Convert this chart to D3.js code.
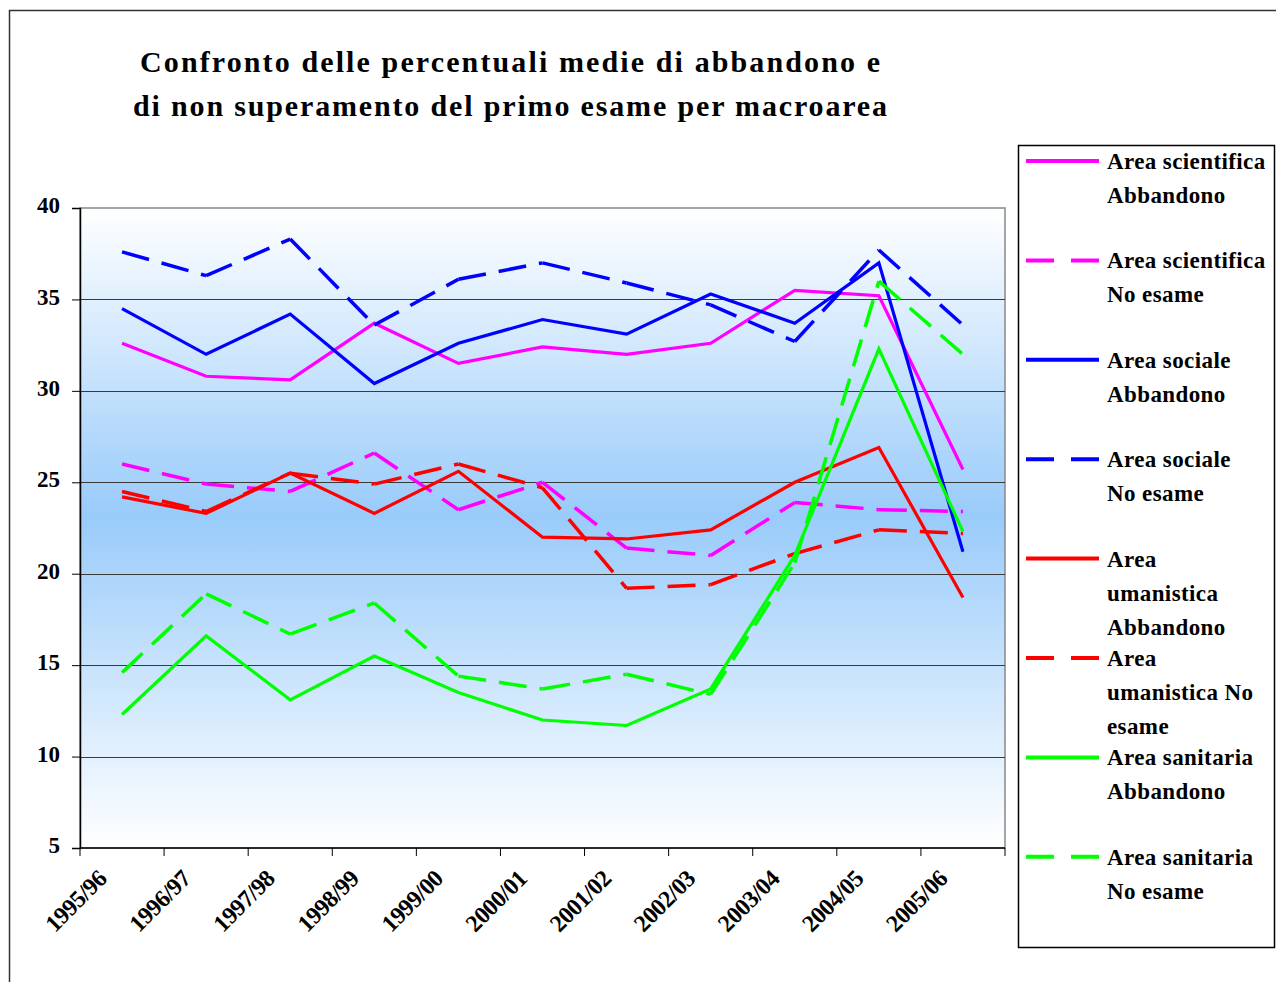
<!DOCTYPE html>
<html>
<head>
<meta charset="utf-8">
<script src="https://cdn.jsdelivr.net/npm/d3@7"></script>
<style>
  body { margin: 0; background: #fff; }
  svg { display: block; }
  text { font-family: "Liberation Serif", "DejaVu Serif", serif; font-weight: bold; fill: #000; }
</style>
</head>
<body>
<div id="chart"></div>
<script>
var width = 1276;
var height = 982;

// data
var years = ["1995/96", "1996/97", "1997/98", "1998/99", "1999/00", "2000/01",
             "2001/02", "2002/03", "2003/04", "2004/05", "2005/06"];
var sciAbb = [32.6, 30.8, 30.6, 33.7, 31.5, 32.4, 32.0, 32.6, 35.5, 35.2, 25.7];
var sciNo  = [26.0, 24.9, 24.5, 26.6, 23.5, 25.0, 21.4, 21.0, 23.9, 23.5, 23.4];
var socAbb = [34.5, 32.0, 34.2, 30.4, 32.6, 33.9, 33.1, 35.3, 33.7, 37.0, 21.2];
var socNo  = [37.6, 36.3, 38.3, 33.6, 36.1, 37.0, 35.9, 34.7, 32.7, 37.7, 33.6];
var umAbb  = [24.2, 23.3, 25.5, 23.3, 25.6, 22.0, 21.9, 22.4, 25.0, 26.9, 18.7];
var umNo   = [24.5, 23.4, 25.5, 24.9, 26.0, 24.7, 19.2, 19.4, 21.1, 22.4, 22.2];
var sanAbb = [12.3, 16.6, 13.1, 15.5, 13.5, 12.0, 11.7, 13.7, 21.0, 32.3, 22.3];
var sanNo  = [14.6, 18.9, 16.7, 18.4, 14.4, 13.7, 14.5, 13.4, 20.6, 36.0, 32.0];
var yTicks = [5, 10, 15, 20, 25, 30, 35, 40];

var seriesLabels = [
  ["Area scientifica", "Abbandono"],
  ["Area scientifica", "No esame"],
  ["Area sociale", "Abbandono"],
  ["Area sociale", "No esame"],
  ["Area", "umanistica", "Abbandono"],
  ["Area", "umanistica No", "esame"],
  ["Area sanitaria", "Abbandono"],
  ["Area sanitaria", "No esame"]
];
var seriesValues = [sciAbb, sciNo, socAbb, socNo, umAbb, umNo, sanAbb, sanNo];
var seriesColors = ["#ff00ff", "#ff00ff", "#0000ff", "#0000ff", "#ff0000", "#ff0000", "#00ff00", "#00ff00"];
var seriesDashed = [false, true, false, true, false, true, false, true];

var titleLines = ["Confronto delle percentuali medie di abbandono e",
                  "di non superamento del primo esame per macroarea"];

var plot = {left: 80, right: 1005, top: 208, bottom: 848};

var svg = d3.select("#chart")
    .append("svg")
    .attr("width", width)
    .attr("height", height);

// outer frame (only top and left visible)
svg.append("path")
    .attr("d", "M9.5," + height + "V10.5H" + width)
    .attr("fill", "none")
    .attr("stroke", "#333")
    .attr("stroke-width", 1.5);

var defs = svg.append("defs");
var grad = defs.append("linearGradient")
    .attr("id", "bg")
    .attr("x1", 0).attr("y1", 0).attr("x2", 0).attr("y2", 1);
grad.append("stop").attr("offset", "0%").attr("stop-color", "#ffffff");
grad.append("stop").attr("offset", "48%").attr("stop-color", "#99cbfa");
grad.append("stop").attr("offset", "100%").attr("stop-color", "#ffffff");

var x = d3.scaleBand().domain(years).range([plot.left, plot.right]);
var y = d3.scaleLinear().domain([5, 40]).range([plot.bottom, plot.top]);
function cx(i) { return x(years[i]) + x.bandwidth() / 2; }

svg.append("rect")
    .attr("x", plot.left).attr("y", plot.top)
    .attr("width", plot.right - plot.left)
    .attr("height", plot.bottom - plot.top)
    .attr("fill", "url(#bg)")
    .attr("stroke", "#888")
    .attr("stroke-width", 1.5);

// gridlines
svg.selectAll(".grid")
    .data(yTicks.filter(function(t) { return t > 5 && t < 40; }))
    .enter()
    .append("line")
    .attr("class", "grid")
    .attr("x1", plot.left).attr("x2", plot.right)
    .attr("y1", function(d) { return Math.round(y(d)) + 0.5; })
    .attr("y2", function(d) { return Math.round(y(d)) + 0.5; })
    .attr("stroke", "#3a3a3a")
    .attr("stroke-width", 1);

// y axis
var yAxis = svg.append("g")
    .attr("transform", "translate(" + plot.left + ",0)")
    .call(d3.axisLeft(y).tickValues(yTicks).tickSize(8).tickPadding(12));
yAxis.select(".domain").attr("stroke", "#000").attr("stroke-width", 1.5);
yAxis.selectAll(".tick line").attr("stroke", "#000");
yAxis.selectAll(".tick text")
    .style("font-family", "'Liberation Serif', serif")
    .style("font-weight", "bold")
    .style("font-size", "23px")
    .attr("dy", "0.2em")
    .attr("fill", "#000");

// x axis: ticks at band edges
var edges = years.map(function(d) { return x(d); }).concat([plot.right]);
svg.append("line")
    .attr("x1", plot.left).attr("x2", plot.right)
    .attr("y1", plot.bottom).attr("y2", plot.bottom)
    .attr("stroke", "#000").attr("stroke-width", 1.5);
svg.selectAll(".xtick")
    .data(edges)
    .enter()
    .append("line")
    .attr("class", "xtick")
    .attr("x1", function(d) { return d; }).attr("x2", function(d) { return d; })
    .attr("y1", plot.bottom).attr("y2", plot.bottom + 8)
    .attr("stroke", "#000");

svg.selectAll(".xlabel")
    .data(years)
    .enter()
    .append("text")
    .attr("class", "xlabel")
    .attr("text-anchor", "end")
    .style("font-size", "24px")
    .style("letter-spacing", "-0.5px")
    .attr("transform", function(d, i) {
      return "translate(" + (cx(i) - 14) + ",880) rotate(-45)";
    })
    .text(function(d) { return d; });

// series
var line = d3.line()
    .x(function(d) { return cx(d.i); })
    .y(function(d) { return y(d.v); });

seriesValues.forEach(function(vals, s) {
  var pts = vals.map(function(v, i) { return {i: i, v: v}; });
  var g = svg.append("g");
  if (seriesDashed[s]) {
    // each segment restarts the dash pattern, as in the original
    for (var k = 0; k < pts.length - 1; k++) {
      g.append("path")
        .attr("d", line([pts[k], pts[k + 1]]))
        .attr("fill", "none")
        .attr("stroke", seriesColors[s])
        .attr("stroke-width", 3.5)
        .attr("stroke-dasharray", "28,13");
    }
  } else {
    g.append("path")
      .attr("d", line(pts))
      .attr("fill", "none")
      .attr("stroke", seriesColors[s])
      .attr("stroke-width", 3.2)
      .attr("stroke-linejoin", "miter");
  }
});

// title
svg.selectAll(".title")
    .data(titleLines)
    .enter()
    .append("text")
    .attr("class", "title")
    .attr("x", 510)
    .attr("y", function(d, i) { return 72 + i * 44; })
    .attr("text-anchor", "middle")
    .attr("textLength", function(d, i) { return i === 0 ? 740 : 754; })
    .attr("lengthAdjust", "spacing")
    .style("font-size", "30px")
    .text(function(d) { return d; });

// legend
var legend = svg.append("g");
legend.append("rect")
    .attr("x", 1018.5).attr("y", 145.5)
    .attr("width", 256).attr("height", 802)
    .attr("fill", "#fff")
    .attr("stroke", "#000")
    .attr("stroke-width", 1.5);

seriesLabels.forEach(function(lines, s) {
  var ly = 161 + s * 99.4;
  legend.append("line")
      .attr("x1", 1026).attr("x2", 1099)
      .attr("y1", ly).attr("y2", ly)
      .attr("stroke", seriesColors[s])
      .attr("stroke-width", 4)
      .attr("stroke-dasharray", seriesDashed[s] ? "28,17" : null);
  var t = legend.append("text")
      .attr("x", 1107)
      .attr("y", ly + 8)
      .style("font-size", "23px")
      .style("letter-spacing", "0.4px");
  lines.forEach(function(l, j) {
    t.append("tspan")
        .attr("x", 1107)
        .attr("dy", j === 0 ? 0 : 34)
        .text(l);
  });
});
</script>
</body>
</html>
